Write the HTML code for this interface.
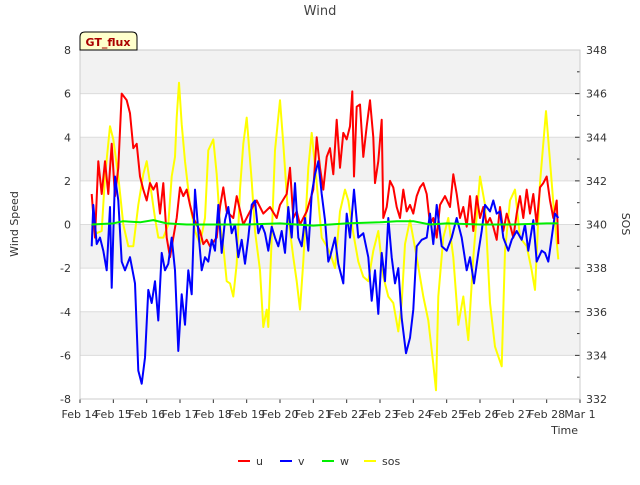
<!DOCTYPE html>
<html><head><meta charset="utf-8"><style>
body{margin:0;background:#fff;font-family:"Liberation Sans","DejaVu Sans",sans-serif}
svg text{font-family:"DejaVu Sans","Liberation Sans",sans-serif}
</style></head><body>
<svg id="c" width="640" height="480" xmlns="http://www.w3.org/2000/svg"></svg>
<script>
const uT=[.35,.45,.55,.65,.75,.85,.95,1.05,1.15,1.25,1.4,1.5,1.6,1.7,1.8,1.9,2.0,2.1,2.2,2.3,2.4,2.5,2.6,2.7,2.8,2.9,3.0,3.1,3.2,3.3,3.4,3.6,3.7,3.8,3.9,4.1,4.2,4.3,4.4,4.6,4.7,4.9,5.1,5.3,5.5,5.7,5.9,6.0,6.2,6.3,6.4,6.5,6.6,6.8,7.0,7.1,7.2,7.3,7.4,7.5,7.6,7.7,7.8,7.9,8.0,8.1,8.17,8.22,8.3,8.4,8.5,8.6,8.7,8.8,8.85,8.95,9.05,9.1,9.2,9.3,9.4,9.5,9.6,9.7,9.8,9.9,10.0,10.1,10.2,10.3,10.4,10.5,10.6,10.7,10.8,10.95,11.1,11.2,11.3,11.4,11.5,11.6,11.7,11.8,11.9,12.0,12.1,12.2,12.3,12.4,12.5,12.6,12.7,12.8,12.9,13.0,13.1,13.2,13.3,13.4,13.5,13.6,13.7,13.8,13.9,14.0,14.1,14.2,14.3,14.35];
const uV=[1.4,-0.6,2.9,1.4,2.9,1.4,3.7,1.3,2.6,6.0,5.7,5.1,3.5,3.7,2.2,1.6,1.1,1.9,1.6,1.9,0.5,1.9,-0.6,-1.5,-0.6,0.3,1.7,1.3,1.6,0.9,0.3,-0.3,-0.9,-0.7,-1.0,-0.6,0.8,1.7,0.6,0.3,1.3,0.0,0.6,1.1,0.5,0.8,0.3,0.9,1.4,2.6,0.3,0.6,0.0,0.6,1.6,4.0,2.6,1.6,3.1,3.5,2.3,4.8,2.6,4.2,3.9,4.5,6.1,2.2,5.4,5.5,3.1,4.5,5.7,4.0,1.9,2.9,4.8,0.3,0.8,2.0,1.7,0.8,0.3,1.6,0.6,0.9,0.5,1.3,1.7,1.9,1.4,0.0,0.3,-0.6,0.9,1.3,0.8,2.3,1.4,0.3,0.8,-0.1,1.3,-0.3,1.3,0.3,0.8,0.0,0.3,-0.1,-0.7,0.8,-0.3,0.5,0.0,-0.6,0.5,1.3,0.3,1.6,0.5,1.4,0.0,1.7,1.9,2.2,1.1,0.3,1.1,-0.9];
const vT=[.35,.4,.5,.6,.7,.8,.9,.95,1.05,1.15,1.25,1.35,1.5,1.65,1.75,1.85,1.95,2.05,2.15,2.25,2.35,2.45,2.55,2.65,2.75,2.85,2.95,3.05,3.15,3.25,3.35,3.45,3.55,3.65,3.75,3.85,3.95,4.05,4.15,4.25,4.35,4.45,4.55,4.65,4.75,4.85,4.95,5.05,5.15,5.25,5.35,5.45,5.55,5.65,5.75,5.85,5.95,6.05,6.15,6.25,6.35,6.45,6.55,6.65,6.75,6.85,6.95,7.05,7.15,7.25,7.35,7.45,7.5,7.65,7.75,7.9,8.0,8.1,8.22,8.35,8.5,8.65,8.75,8.85,8.95,9.05,9.15,9.25,9.35,9.45,9.55,9.65,9.78,9.9,10.0,10.1,10.25,10.4,10.5,10.6,10.7,10.85,11.0,11.15,11.3,11.45,11.6,11.7,11.82,11.95,12.05,12.15,12.3,12.4,12.5,12.6,12.7,12.85,12.95,13.1,13.25,13.35,13.45,13.6,13.7,13.85,13.95,14.05,14.15,14.25,14.35];
const vV=[-1.0,0.9,-0.9,-0.6,-1.2,-2.1,0.8,-2.9,2.2,1.1,-1.7,-2.1,-1.5,-2.7,-6.7,-7.3,-6.1,-3.0,-3.6,-2.6,-4.4,-1.3,-2.1,-1.8,-0.6,-2.1,-5.8,-3.2,-4.6,-2.1,-3.2,1.6,-0.3,-2.1,-1.5,-1.7,-0.7,-1.2,0.9,-1.3,0.2,0.8,-0.4,0.0,-1.5,-0.7,-1.8,-0.6,0.9,1.1,-0.4,0.0,-0.4,-1.2,-0.1,-0.6,-1.0,-0.3,-1.3,0.8,-0.6,1.9,-0.6,-1.0,0.3,-1.2,1.4,2.3,2.9,1.4,0.2,-1.7,-1.5,-0.6,-1.8,-2.7,0.5,-0.6,1.6,-0.6,-0.4,-1.5,-3.5,-2.1,-4.1,-1.3,-2.6,0.3,-1.5,-2.7,-2.0,-4.3,-5.9,-5.2,-3.9,-1.0,-0.7,-0.6,0.5,-0.9,0.9,-1.0,-1.2,-0.6,0.3,-0.6,-2.1,-1.5,-2.7,-1.3,-0.3,0.9,0.6,1.1,0.5,0.6,-0.6,-1.2,-0.7,-0.3,-0.7,0.0,-1.2,0.2,-1.7,-1.2,-1.3,-1.7,-0.6,0.5,0.3];
const wT=[.35,1.0,1.3,1.8,2.2,2.6,3.2,4.0,5.0,6.0,7.0,8.0,9.0,9.5,10.0,10.5,11.0,12.0,13.0,14.0,14.35];
const wV=[0.0,0.05,0.15,0.1,0.2,0.05,0.0,0.0,0.0,0.05,-0.05,0.05,0.1,0.15,0.15,0.0,0.05,0.0,0.0,0.05,0.05];
const sT=[.35,.5,.65,.75,.9,1.0,1.15,1.3,1.45,1.6,1.75,1.9,2.0,2.1,2.25,2.35,2.5,2.65,2.75,2.85,2.9,2.97,3.05,3.15,3.3,3.45,3.6,3.75,3.85,4.0,4.1,4.2,4.3,4.4,4.5,4.6,4.7,4.8,4.9,5.0,5.15,5.25,5.4,5.5,5.6,5.65,5.75,5.85,6.0,6.1,6.25,6.4,6.5,6.6,6.7,6.85,6.95,7.1,7.25,7.4,7.5,7.65,7.8,7.95,8.05,8.2,8.35,8.5,8.65,8.8,8.95,9.1,9.25,9.4,9.55,9.65,9.75,9.9,10.1,10.3,10.45,10.6,10.68,10.75,10.9,11.05,11.2,11.35,11.5,11.65,11.8,12.0,12.15,12.3,12.45,12.65,12.75,12.9,13.05,13.2,13.4,13.55,13.65,13.8,13.98,14.1,14.22,14.35];
const sV=[340.0,339.6,339.7,342.2,344.5,343.9,342.2,340.0,339.0,339.0,340.9,342.3,342.9,341.9,340.3,339.4,339.4,340.0,342.2,343.1,344.9,346.5,344.6,342.9,340.9,339.7,339.1,340.3,343.4,343.9,342.3,340.0,339.0,337.4,337.3,336.7,338.2,341.6,343.7,344.9,342.0,339.7,337.9,335.3,336.1,335.3,339.4,343.4,345.7,343.7,340.3,338.5,337.4,336.1,338.3,342.6,344.2,341.9,339.4,339.0,338.7,338.0,340.6,341.6,341.1,339.6,338.3,337.6,337.4,338.8,339.7,337.6,336.7,336.4,335.1,336.4,339.1,340.2,338.5,336.7,335.6,333.6,332.4,336.7,339.4,340.3,338.5,335.4,336.7,334.7,338.5,342.2,340.9,336.4,334.4,333.5,338.8,341.1,341.6,339.4,339.0,337.9,337.0,341.9,345.2,342.9,340.6,338.4];
const xLabels=["Feb 14","Feb 15","Feb 16","Feb 17","Feb 18","Feb 19","Feb 20","Feb 21","Feb 22","Feb 23","Feb 24","Feb 25","Feb 26","Feb 27","Feb 28","Mar 1"];
const yTicks=[-8,-6,-4,-2,0,2,4,6,8];
const sTicks=[332,334,336,338,340,342,344,346,348];

const svg=document.getElementById('c');const NS='http://www.w3.org/2000/svg';
const L=80,R=580,T=50,B=399;
const X=d=>L+d*(R-L)/15;
const Y=v=>B-(v+8)*(B-T)/16;
const YS=s=>B-(s-332)*(B-T)/16;
function mk(tag,attrs,parent){const e=document.createElementNS(NS,tag);for(const k in attrs)e.setAttribute(k,attrs[k]);(parent||svg).appendChild(e);return e;}
function txt(s,attrs,name){const e=mk('text',attrs);e.textContent=s;

return e;}

const bg=mk('rect',{x:L,y:T,width:R-L,height:B-T,fill:'#fff'});


for(let i=0;i<8;i++){if(i%2===0){const b=mk('rect',{x:L,y:Y(8-2*i),width:R-L,height:Y(6-2*i)-Y(8-2*i),fill:'#f2f2f2'});

}}
yTicks.forEach(v=>{const g=mk('line',{x1:L,x2:R,y1:Y(v),y2:Y(v),stroke:'#dcdcdc','stroke-width':1});


txt(String(v),{x:L-9,y:Y(v)+4,'text-anchor':'end','font-size':11,fill:'#333'},'y-tick-label');});
for(let s=332;s<=348;s++){const tk=mk('line',{x1:R-(s%2?3:5),x2:R,y1:YS(s),y2:YS(s),stroke:'#333'});

}
sTicks.forEach(s=>txt(String(s),{x:R+6,y:YS(s)+4,'font-size':11,fill:'#333'},'right-tick-label'));
xLabels.forEach((l,i)=>{const tk=mk('line',{x1:X(i),x2:X(i),y1:B,y2:B+4,stroke:'#333'});


txt(l,{x:X(i),y:B+19,'text-anchor':'middle','font-size':11,fill:'#333'},'x-tick-label');});

function line(ts,vs,yf,color,name,w){const p=mk('polyline',{points:ts.map((t,i)=>X(t).toFixed(1)+','+yf(vs[i]).toFixed(1)).join(' '),fill:'none',stroke:color,'stroke-width':w||2,'stroke-linejoin':'round'});

}
line(sT,sV,YS,'#ffff00','sos-line');
line(uT,uV,Y,'#ff0000','u-line');
line(vT,vV,Y,'#0000ff','v-line');
line(wT,wV,Y,'#00ee00','w-line');

const fr=mk('rect',{x:L,y:T,width:R-L,height:B-T,fill:'none',stroke:'#ccc'});


txt('Wind',{x:320,y:15,'text-anchor':'middle','font-size':13,fill:'#444'},'chart-title');
txt('Wind Speed',{x:18,y:224,'text-anchor':'middle','font-size':11,fill:'#333',transform:'rotate(-90 18 224)'},'y-axis-title');
txt('SOS',{x:622,y:224,'text-anchor':'middle','font-size':11,fill:'#333',transform:'rotate(90 622 224)'},'right-axis-title');
txt('Time',{x:578,y:434,'text-anchor':'end','font-size':11,fill:'#333'},'x-axis-title');
const gb=mk('path',{d:'M80,50 L80,37 Q80,32 85,32 L132,32 Q137,32 137,37 L137,50 Z',fill:'#ffffcc',stroke:'#000'});


txt('GT_flux',{x:108,y:46,'text-anchor':'middle','font-size':11,'font-weight':'bold',fill:'#aa0000'},'gt-flux-label');
[['u','#ff0000',238],['v','#0000ff',280],['w','#00ee00',322],['sos','#ffff00',364]].forEach(([n,c,x])=>{
const g=mk('g',{});


mk('line',{x1:x,x2:x+12,y1:461,y2:461,stroke:c,'stroke-width':2},g);
const t=mk('text',{x:x+18,y:465,'font-size':11,fill:'#333'},g);t.textContent=n;});
</script>
</body></html>
